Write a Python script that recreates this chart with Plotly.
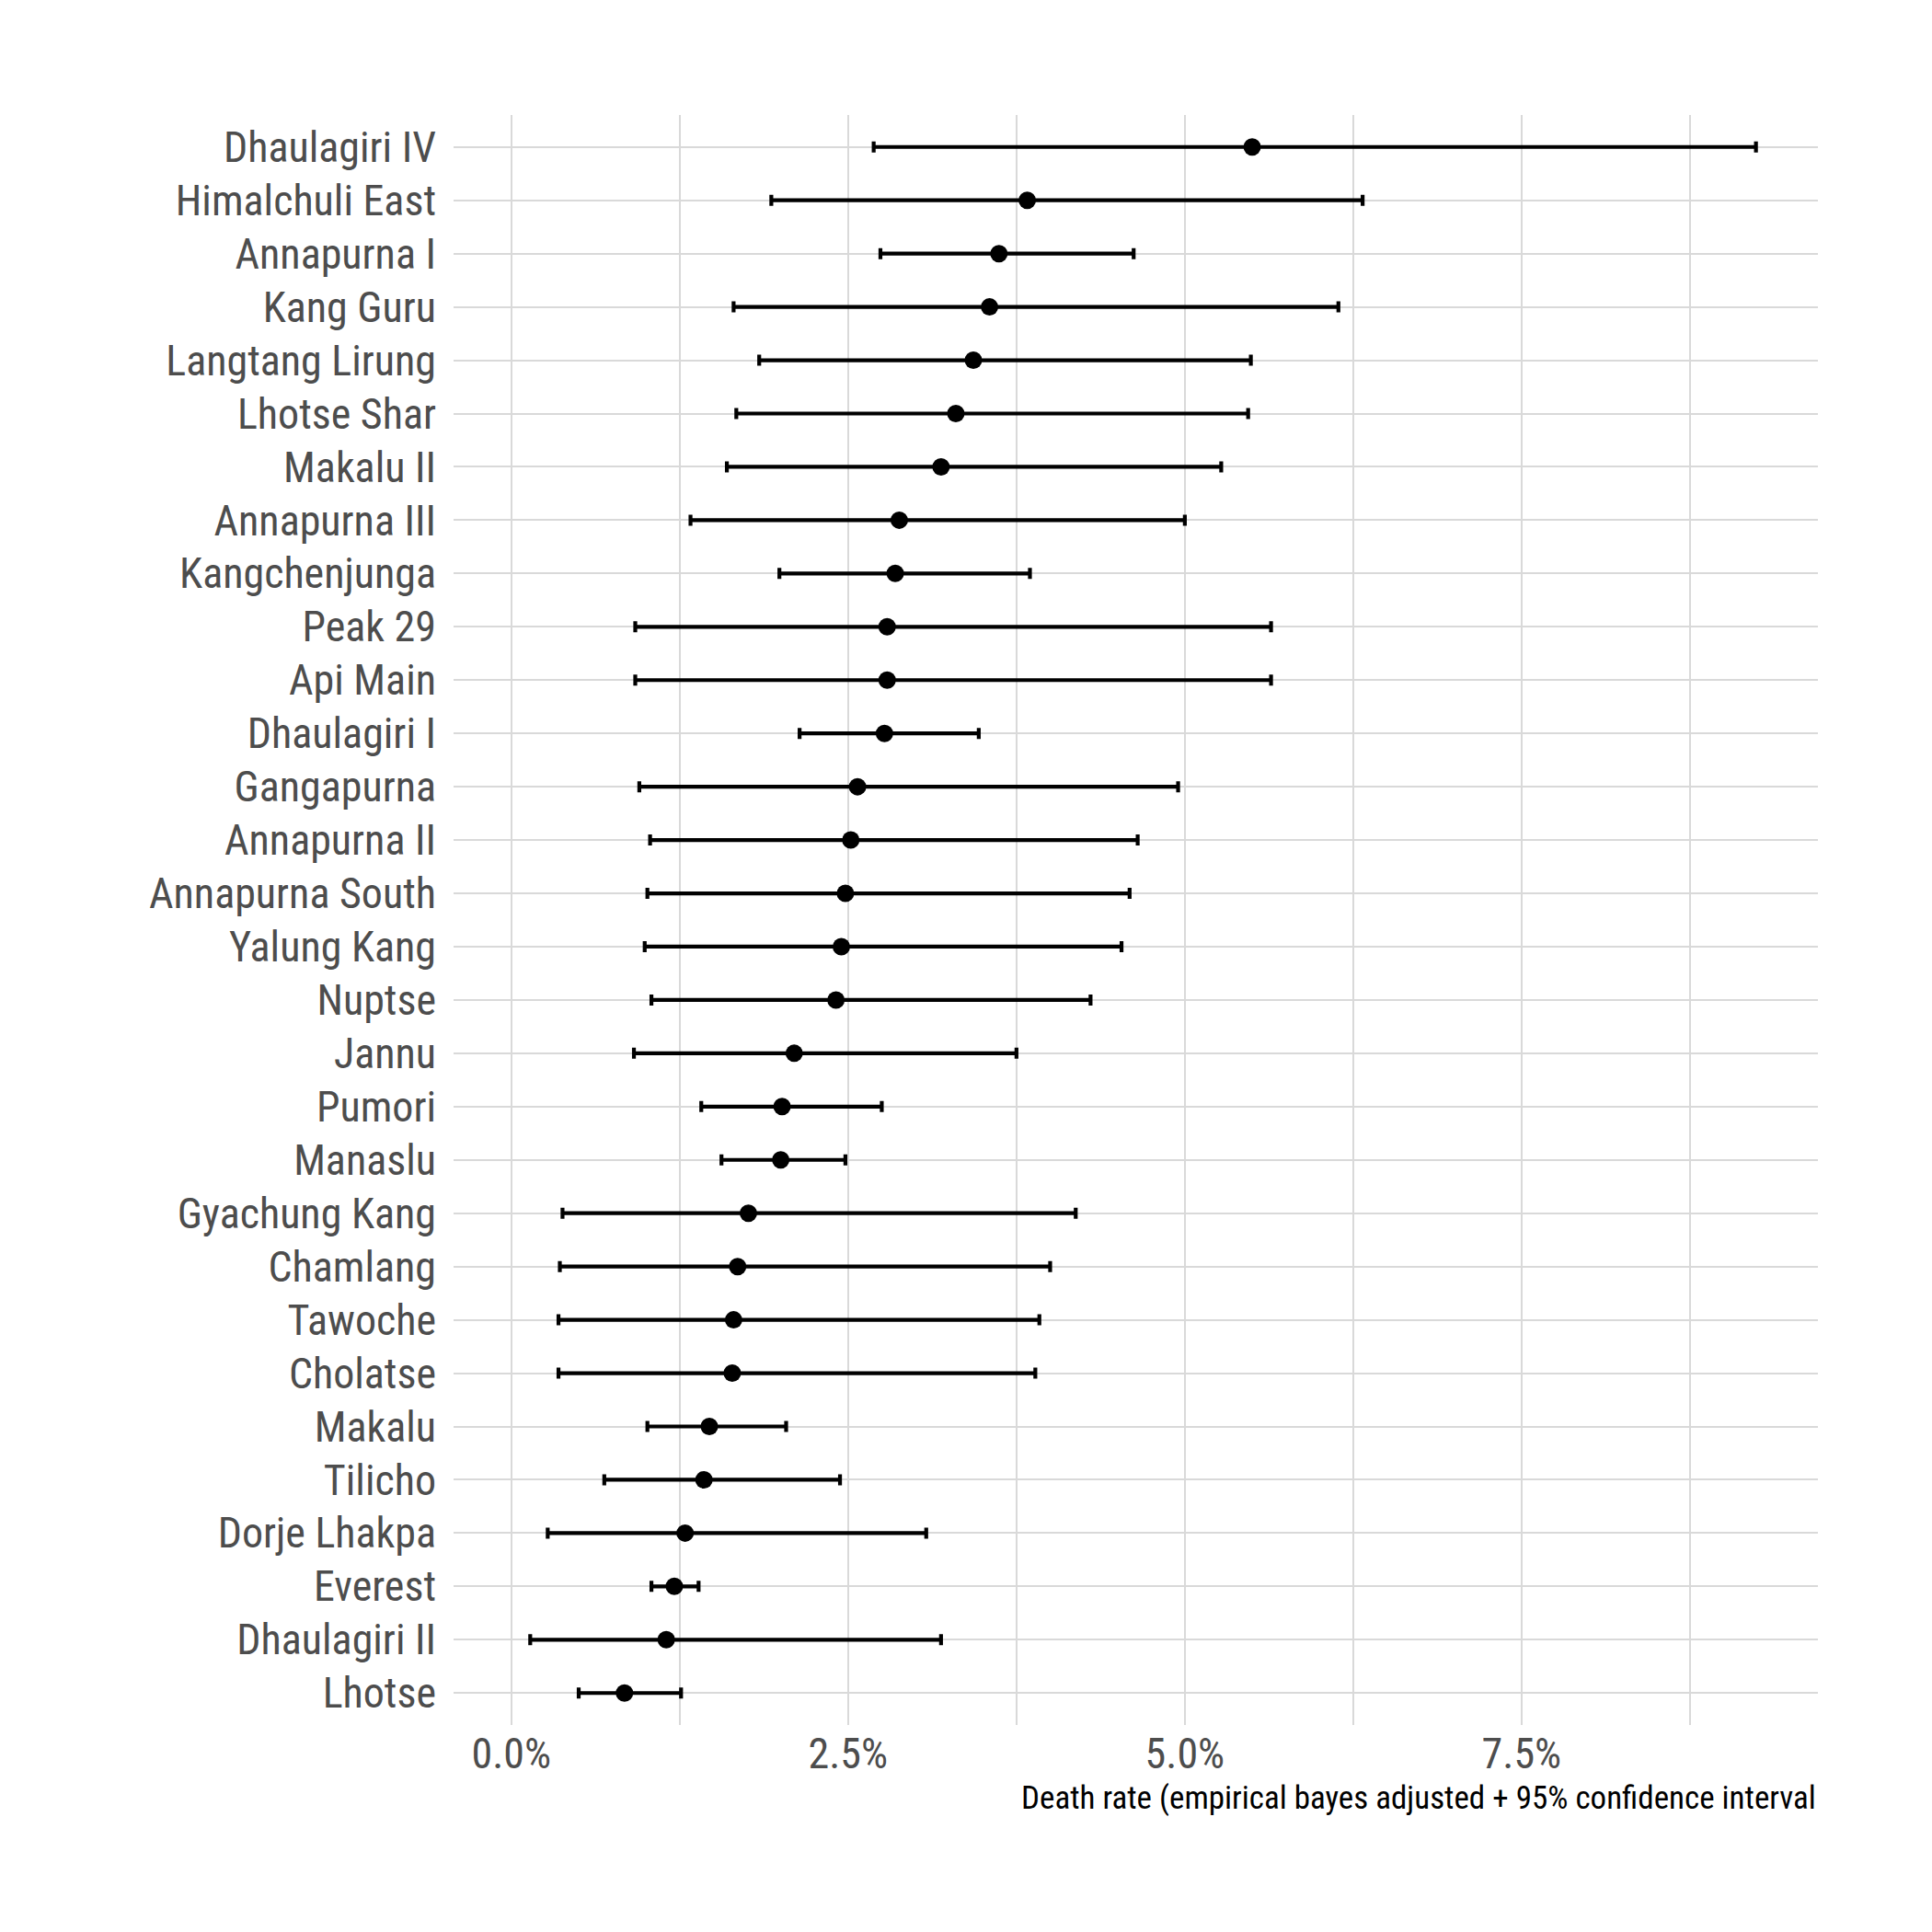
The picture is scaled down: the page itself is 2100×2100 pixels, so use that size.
import plotly.graph_objects as go

# Categories listed top to bottom as in the reference
peaks = ["Dhaulagiri IV", "Himalchuli East", "Annapurna I", "Kang Guru", "Langtang Lirung",
         "Lhotse Shar", "Makalu II", "Annapurna III", "Kangchenjunga", "Peak 29",
         "Api Main", "Dhaulagiri I", "Gangapurna", "Annapurna II", "Annapurna South",
         "Yalung Kang", "Nuptse", "Jannu", "Pumori", "Manaslu",
         "Gyachung Kang", "Chamlang", "Tawoche", "Cholatse", "Makalu",
         "Tilicho", "Dorje Lhakpa", "Everest", "Dhaulagiri II", "Lhotse"]

# Death rate (%), empirical bayes adjusted
rate = [5.50, 3.83, 3.62, 3.55, 3.43, 3.30, 3.19, 2.88, 2.85, 2.79,
        2.79, 2.77, 2.57, 2.52, 2.48, 2.45, 2.41, 2.10, 2.01, 2.00,
        1.76, 1.68, 1.65, 1.64, 1.47, 1.43, 1.29, 1.21, 1.15, 0.84]
low = [2.69, 1.93, 2.74, 1.65, 1.84, 1.67, 1.60, 1.33, 1.99, 0.92,
       0.92, 2.14, 0.95, 1.03, 1.01, 0.99, 1.04, 0.91, 1.41, 1.56,
       0.38, 0.36, 0.35, 0.35, 1.01, 0.69, 0.27, 1.04, 0.14, 0.50]
high = [9.24, 6.32, 4.62, 6.14, 5.49, 5.47, 5.27, 5.00, 3.85, 5.64,
        5.64, 3.47, 4.95, 4.65, 4.59, 4.53, 4.30, 3.75, 2.75, 2.48,
        4.19, 4.00, 3.92, 3.89, 2.04, 2.44, 3.08, 1.39, 3.19, 1.26]

x_title = "Death rate (empirical bayes adjusted + 95% confidence interval"

# bottom-to-top order for plotly categorical axis
order = list(reversed(peaks))
r = [v / 100 for v in reversed(rate)]
lo = [v / 100 for v in reversed(low)]
hi = [v / 100 for v in reversed(high)]

FONT = "Liberation Sans Narrow, Arial Narrow, Roboto Condensed, sans-serif"
GRID = "#d9d9d9"

fig = go.Figure()
fig.add_trace(go.Scatter(
    x=r, y=order, mode="markers",
    marker=dict(color="black", size=19),
    error_x=dict(type="data", symmetric=False,
                 array=[h - p for h, p in zip(hi, r)],
                 arrayminus=[p - l for p, l in zip(r, lo)],
                 color="black", thickness=4.2, width=6),
    showlegend=False,
))

fig.update_layout(
    width=2100, height=2100,
    paper_bgcolor="white", plot_bgcolor="white",
    margin=dict(l=493, r=124, t=125, b=225, autoexpand=False),
    font=dict(family=FONT, color="#4d4d4d", size=46),
    xaxis=dict(
        range=[-0.00429, 0.0970], tickformat=".1%", dtick=0.025, tick0=0,
        showgrid=True, gridcolor=GRID, gridwidth=1.8, zeroline=False,
        showline=False, ticks="", ticklabelstandoff=0,
        tickfont=dict(family=FONT, size=46, color="#4d4d4d"),
        minor=dict(dtick=0.0125, tick0=0, showgrid=True, gridcolor=GRID, gridwidth=1.5),
    ),
    yaxis=dict(
        type="category", categoryorder="array", categoryarray=order,
        range=[-0.6, len(order) - 0.4],
        showgrid=True, gridcolor=GRID, gridwidth=1.8, zeroline=False,
        showline=False, ticks="", ticklabelstandoff=18,
        tickfont=dict(family=FONT, size=46, color="#4d4d4d"),
    ),
    annotations=[dict(
        text=x_title, xref="paper", yref="paper", x=1, y=-0.0457,
        xanchor="right", yanchor="middle", showarrow=False,
        font=dict(family=FONT, size=35, color="black"),
    )],
)

fig.write_html("out.html")
